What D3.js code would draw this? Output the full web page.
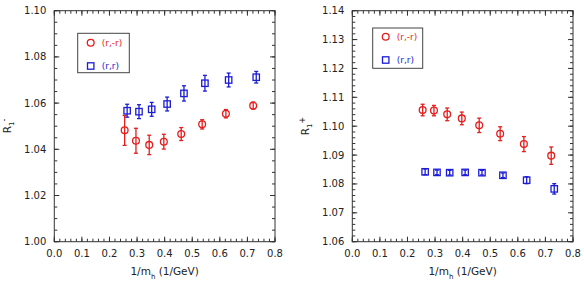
<!DOCTYPE html>
<html>
<head>
<meta charset="utf-8">
<script src="https://cdn.jsdelivr.net/npm/d3@7"></script>
<style>
  body { margin: 0; background: #fff; }
  text { font-family: "DejaVu Sans", sans-serif; fill: #222; }
</style>
</head>
<body>
<script>
// Width and height
var w = 584;
var h = 288;

// x positions (1/m_h in 1/GeV)
var xRed = [0.255, 0.296, 0.344, 0.397, 0.460, 0.536, 0.622, 0.721];
var xBlue = [0.264, 0.307, 0.353, 0.409, 0.470, 0.546, 0.632, 0.732];

// Left panel, R_1^-
var leftRed = [1.0482, 1.0437, 1.0419, 1.0433, 1.0466, 1.0508, 1.0554, 1.0589];
var leftRedErr = [0.0065, 0.0054, 0.0042, 0.0032, 0.0028, 0.0020, 0.0018, 0.0015];
var leftBlue = [1.0567, 1.0563, 1.0573, 1.0596, 1.0642, 1.0686, 1.0700, 1.0712];
var leftBlueErr = [0.0028, 0.0030, 0.0030, 0.0030, 0.0033, 0.0034, 0.0030, 0.0025];

// Right panel, R_1^+
var rightRed = [1.1056, 1.1054, 1.1041, 1.1027, 1.1003, 1.0974, 1.0938, 1.0898];
var rightRedErr = [0.0020, 0.0018, 0.0022, 0.0022, 0.0025, 0.0024, 0.0026, 0.0030];
var rightBlue = [1.0842, 1.0840, 1.0839, 1.0840, 1.0839, 1.0830, 1.0813, 1.0783];
var rightBlueErr = [0.0010, 0.0008, 0.0008, 0.0008, 0.0008, 0.0008, 0.0012, 0.0018];

// Axis ticks
var xTicks = [0, 0.1, 0.2, 0.3, 0.4, 0.5, 0.6, 0.7, 0.8];
var leftYTicks = [1.00, 1.02, 1.04, 1.06, 1.08, 1.10];
var rightYTicks = [1.06, 1.07, 1.08, 1.09, 1.10, 1.11, 1.12, 1.13, 1.14];

var legendLabels = ["(r,-r)", "(r,r)"];

var red = "#e41d1d";
var blue = "#1c1cd8";

var svg = d3.select("body")
            .append("svg")
            .attr("width", w)
            .attr("height", h);

function zip(xs, ys, es) {
    return xs.map(function(x, i) { return {x: x, y: ys[i], e: es[i]}; });
}

function drawPanel(cfg) {
    var x = d3.scaleLinear().domain([0, 0.8]).range([cfg.left, cfg.left + 220.7]);
    var y = d3.scaleLinear().domain(cfg.yDomain).range([241.7, 10.7]);

    var g = svg.append("g");

    // frame
    g.append("rect")
     .attr("x", x(0)).attr("y", y.range()[1])
     .attr("width", x(0.8) - x(0)).attr("height", y.range()[0] - y.range()[1])
     .attr("fill", "none").attr("stroke", "#333").attr("stroke-width", 1);

    // minor and major ticks, pointing inward on all sides
    var xMinor = d3.range(0, 0.8001, 0.02);
    var yMinor = d3.range(cfg.yDomain[0], cfg.yDomain[1] + 1e-6, cfg.yMinor);

    function tickSet(axis, pos, len, side) {
        g.selectAll(null)
         .data(pos)
         .enter()
         .append("line")
         .attr("stroke", "#333")
         .attr("stroke-width", 1)
         .attr("x1", function(d) { return axis === "x" ? x(d) : (side === 0 ? x(0) : x(0.8)); })
         .attr("x2", function(d) { return axis === "x" ? x(d) : (side === 0 ? x(0) + len : x(0.8) - len); })
         .attr("y1", function(d) { return axis === "y" ? y(d) : (side === 0 ? y.range()[0] : y.range()[1]); })
         .attr("y2", function(d) { return axis === "y" ? y(d) : (side === 0 ? y.range()[0] - len : y.range()[1] + len); });
    }
    tickSet("x", xMinor, 3, 0);
    tickSet("x", xMinor, 3, 1);
    tickSet("x", xTicks, 5, 0);
    tickSet("x", xTicks, 5, 1);
    tickSet("y", yMinor, 3, 0);
    tickSet("y", yMinor, 3, 1);
    tickSet("y", cfg.yTicks, 5, 0);
    tickSet("y", cfg.yTicks, 5, 1);

    // tick labels
    g.selectAll(null)
     .data(xTicks)
     .enter()
     .append("text")
     .attr("x", function(d) { return x(d); })
     .attr("y", 257)
     .attr("text-anchor", "middle")
     .attr("font-size", 10)
     .text(d3.format(".1f"));

    g.selectAll(null)
     .data(cfg.yTicks)
     .enter()
     .append("text")
     .attr("x", x(0) - 8)
     .attr("y", function(d) { return y(d) + 3.5; })
     .attr("text-anchor", "end")
     .attr("font-size", 10)
     .text(d3.format(".2f"));

    // x label
    var xl = g.append("text")
              .attr("x", x(0.4))
              .attr("y", 275)
              .attr("text-anchor", "middle")
              .attr("font-size", 10.5);
    xl.append("tspan").text("1/m");
    xl.append("tspan").attr("dy", 4).attr("font-size", 7).text("h");
    xl.append("tspan").attr("dy", -4).text("  (1/GeV)");

    // y label
    var yl = g.append("text")
              .attr("transform", "translate(" + cfg.yLabelX + "," + 126 + ") rotate(-90)")
              .attr("text-anchor", "middle")
              .attr("font-size", 10.5);
    yl.append("tspan").text("R");
    yl.append("tspan").attr("dy", 3).attr("font-size", 7).text("1");
    yl.append("tspan").attr("dy", -7).attr("font-size", 8).text(cfg.sign);

    // series
    var series = [
        {pts: zip(xRed, cfg.red, cfg.redErr), color: red, shape: "circle"},
        {pts: zip(xBlue, cfg.blue, cfg.blueErr), color: blue, shape: "square"}
    ];

    series.forEach(function(s) {
        var sg = g.append("g")
                  .attr("stroke", s.color)
                  .attr("stroke-width", 1.3)
                  .attr("fill", "none");

        // error bars
        sg.selectAll(null).data(s.pts).enter().append("line")
          .attr("x1", function(d) { return x(d.x); })
          .attr("x2", function(d) { return x(d.x); })
          .attr("y1", function(d) { return y(d.y - d.e); })
          .attr("y2", function(d) { return y(d.y + d.e); });
        [-1, 1].forEach(function(sgn) {
            sg.selectAll(null).data(s.pts).enter().append("line")
              .attr("x1", function(d) { return x(d.x) - 2; })
              .attr("x2", function(d) { return x(d.x) + 2; })
              .attr("y1", function(d) { return y(d.y + sgn * d.e); })
              .attr("y2", function(d) { return y(d.y + sgn * d.e); });
        });

        // markers
        if (s.shape === "circle") {
            sg.selectAll(null).data(s.pts).enter().append("circle")
              .attr("cx", function(d) { return x(d.x); })
              .attr("cy", function(d) { return y(d.y); })
              .attr("r", 3.4);
        } else {
            sg.selectAll(null).data(s.pts).enter().append("rect")
              .attr("x", function(d) { return x(d.x) - 3.2; })
              .attr("y", function(d) { return y(d.y) - 3.2; })
              .attr("width", 6.4)
              .attr("height", 6.4);
        }
    });

    // legend
    var lg = g.append("g").attr("transform", "translate(" + cfg.legend[0] + "," + cfg.legend[1] + ")");
    lg.append("rect")
      .attr("x", 0).attr("y", 0)
      .attr("width", cfg.legend[2]).attr("height", cfg.legend[3])
      .attr("fill", "#fff").attr("stroke", "#444").attr("stroke-width", 1);
    lg.append("circle")
      .attr("cx", 13).attr("cy", cfg.legend[4])
      .attr("r", 3.4).attr("fill", "none").attr("stroke", red).attr("stroke-width", 1.3);
    lg.append("rect")
      .attr("x", 13 - 3.2).attr("y", cfg.legend[5] - 3.2)
      .attr("width", 6.4).attr("height", 6.4)
      .attr("fill", "none").attr("stroke", blue).attr("stroke-width", 1.3);
    lg.append("text")
      .attr("x", 24).attr("y", cfg.legend[4] + 3)
      .attr("font-size", 9).style("fill", red)
      .text(legendLabels[0]);
    lg.append("text")
      .attr("x", 24).attr("y", cfg.legend[5] + 3)
      .attr("font-size", 9).style("fill", blue)
      .text(legendLabels[1]);
}

drawPanel({
    left: 54.3,
    yDomain: [1.00, 1.10],
    yTicks: leftYTicks,
    yMinor: 0.005,
    red: leftRed, redErr: leftRedErr,
    blue: leftBlue, blueErr: leftBlueErr,
    sign: "-",
    yLabelX: 11,
    legend: [77.7, 33.3, 51.6, 39.4, 9.4, 32.7]
});

drawPanel({
    left: 352.3,
    yDomain: [1.06, 1.14],
    yTicks: rightYTicks,
    yMinor: 0.002,
    red: rightRed, redErr: rightRedErr,
    blue: rightBlue, blueErr: rightBlueErr,
    sign: "+",
    yLabelX: 309,
    legend: [372.7, 28, 50, 40.3, 8.7, 32]
});
</script>
</body>
</html>
